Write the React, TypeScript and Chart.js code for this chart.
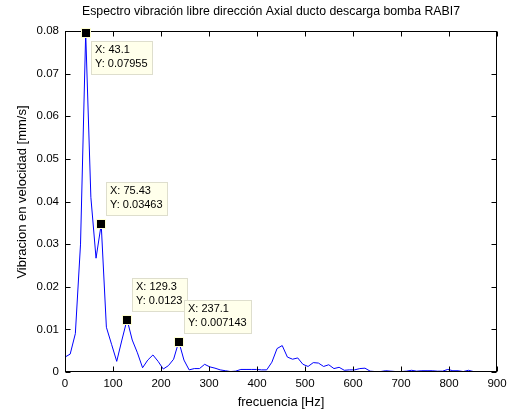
import React, { useEffect, useRef } from "react";
import { Chart, registerables } from "chart.js";

Chart.register(...registerables);

// Frequency resolution of the spectrum (Hz between samples)
const freqStep = 10.775;

// Velocity amplitude [mm/s] per spectral line
const amplitudes: number[] = [
  0.0035, 0.0042, 0.009, 0.03, 0.07955, 0.041, 0.0267, 0.03463, 0.0105, 0.0065,
  0.0025, 0.0075, 0.0123, 0.0075, 0.0045, 0.001, 0.0028, 0.004, 0.0025, 0.0007,
  0.0015, 0.003, 0.007143, 0.0028, 0.0005, 0.0008, 0.0008, 0.0018, 0.0012, 0.0009,
  0.0005, 0.0003, 0.0001, 0.0002, 0.0006, 0.0006, 0.0006, 0.0006, 0.0005, 0.0005,
  0.0023, 0.0055, 0.0062, 0.0035, 0.003, 0.0033, 0.0018, 0.0013, 0.0022, 0.0021,
  0.0013, 0.0017, 0.0008, 0.0011, 0.0004, 0.0005, 0.0005, 0.0008, 0.0009, 0.0002,
  0.0001, 0.0001, 0.0003, 0.0002, 0.0001, 0.0001, 0.0002, 0.0004, 0.0002, 0.0003,
  0.0003, 0.0003, 0.0002, 0.0002, 0.0006, 0.0003, 0.0003, 0.0001, 0.0004, 0.0001,
];

// Data tips
const tipX: string[] = ["43.1", "75.43", "129.3", "237.1"];
const tipY: string[] = ["0.07955", "0.03463", "0.0123", "0.007143"];
const tipBelow: boolean[] = [true, false, false, false];

const xTicks: number[] = [0, 100, 200, 300, 400, 500, 600, 700, 800, 900];
const yTicks: number[] = [0, 0.01, 0.02, 0.03, 0.04, 0.05, 0.06, 0.07, 0.08];

const titleText = "Espectro vibración libre dirección Axial ducto descarga bomba RABI7";
const xLabel = "frecuencia [Hz]";
const yLabel = "Vibracion en velocidad [mm/s]";

const FONT = "'Liberation Sans', Arial, sans-serif";

export default function App() {
  const ref = useRef<HTMLCanvasElement | null>(null);

  useEffect(() => {
    if (!ref.current) return;
    const points = amplitudes.map((v, i) => ({ x: i * freqStep, y: v }));

    const decor = {
      id: "decor",
      afterDraw(chart: any) {
        const ctx = chart.ctx as CanvasRenderingContext2D;
        const a = chart.chartArea;
        const xs = chart.scales.x;
        const ys = chart.scales.y;
        const L = Math.round(a.left) + 0.5;
        const R = Math.round(a.right) - 0.5;
        const T = Math.round(a.top) + 0.5;
        const B = Math.round(a.bottom) - 0.5;
        ctx.save();
        ctx.strokeStyle = "#000";
        ctx.lineWidth = 1;
        ctx.strokeRect(L, T, R - L, B - T);
        const tl = 5;
        ctx.beginPath();
        xTicks.forEach((t) => {
          const px = Math.round(xs.getPixelForValue(t)) + 0.5;
          ctx.moveTo(px, B);
          ctx.lineTo(px, B - tl);
          ctx.moveTo(px, T);
          ctx.lineTo(px, T + tl);
        });
        yTicks.forEach((t) => {
          const py = Math.round(ys.getPixelForValue(t)) + 0.5;
          ctx.moveTo(L, py);
          ctx.lineTo(L + tl, py);
          ctx.moveTo(R, py);
          ctx.lineTo(R - tl, py);
        });
        ctx.stroke();

        // title & axis labels
        ctx.fillStyle = "#000";
        ctx.font = `12.3px ${FONT}`;
        ctx.textAlign = "center";
        ctx.textBaseline = "middle";
        const cx = (a.left + a.right) / 2;
        ctx.fillText(titleText, cx - 10, 12);
        ctx.font = `13px ${FONT}`;
        ctx.fillText(xLabel, cx, 402);
        ctx.save();
        ctx.translate(22, 192);
        ctx.rotate(-Math.PI / 2);
        ctx.fillText(yLabel, 0, 0);
        ctx.restore();

        // data tips
        ctx.font = `11px ${FONT}`;
        tipX.forEach((tx, i) => {
          const mx = Math.round(xs.getPixelForValue(parseFloat(tx)));
          const my = Math.round(ys.getPixelForValue(parseFloat(tipY[i])));
          const l1 = `X: ${tx}`;
          const l2 = `Y: ${tipY[i]}`;
          const w = Math.ceil(Math.max(ctx.measureText(l1).width, ctx.measureText(l2).width)) + 9;
          const h = 34;
          const bx = mx + 5;
          const by = tipBelow[i] ? my + 8 : my - 8 - h;
          ctx.fillStyle = "rgb(255,255,235)";
          ctx.fillRect(bx, by, w, h);
          ctx.strokeStyle = "rgb(222,222,205)";
          ctx.strokeRect(bx + 0.5, by + 0.5, w - 1, h - 1);
          ctx.fillStyle = "#000";
          ctx.textAlign = "left";
          ctx.textBaseline = "middle";
          ctx.fillText(l1, bx + 4, by + 9);
          ctx.fillText(l2, bx + 4, by + 23);
          // marker
          ctx.fillStyle = "rgb(255,255,210)";
          ctx.fillRect(mx - 5, my - 5, 10, 10);
          ctx.fillStyle = "#000";
          ctx.fillRect(mx - 4, my - 4, 8, 8);
        });
        ctx.restore();
      },
    };

    const chart = new Chart(ref.current, {
      type: "line",
      data: {
        datasets: [
          {
            data: points,
            borderColor: "rgb(0,0,255)",
            borderWidth: 1,
            pointRadius: 0,
            tension: 0,
            fill: false,
          },
        ],
      },
      options: {
        animation: false,
        responsive: false,
        devicePixelRatio: 1,
        parsing: false,
        layout: { padding: { top: 31, right: 19, left: 0, bottom: 0 } },
        plugins: {
          legend: { display: false },
          title: { display: false },
          tooltip: { enabled: false },
        },
        scales: {
          x: {
            type: "linear",
            min: 0,
            max: 900,
            afterBuildTicks: (s: any) => {
              s.ticks = xTicks.map((v) => ({ value: v }));
            },
            afterFit: (s: any) => {
              s.height = 41;
              s.paddingLeft = 0;
              s.paddingRight = 0;
            },
            grid: { display: false, drawTicks: false },
            border: { display: false },
            ticks: {
              color: "#000",
              font: { family: FONT, size: 11.5 },
              padding: 5,
              maxRotation: 0,
              autoSkip: false,
              callback: (v: any) => String(v),
            },
          },
          y: {
            type: "linear",
            min: 0,
            max: 0.08,
            afterBuildTicks: (s: any) => {
              s.ticks = yTicks.map((v) => ({ value: v }));
            },
            afterFit: (s: any) => {
              s.width = 65;
              s.paddingTop = 0;
              s.paddingBottom = 0;
            },
            grid: { display: false, drawTicks: false },
            border: { display: false },
            ticks: {
              color: "#000",
              font: { family: FONT, size: 11.5 },
              padding: 6,
              autoSkip: false,
              callback: (v: any) => (v === 0 ? "0" : Number(v).toFixed(2)),
            },
          },
        },
      },
      plugins: [decor],
    } as any);
    return () => chart.destroy();
  }, []);

  return (
    <div style={{ position: "fixed", left: 0, top: 0, width: 516, height: 413, background: "#fff" }}>
      <canvas ref={ref} width={516} height={413} />
    </div>
  );
}
